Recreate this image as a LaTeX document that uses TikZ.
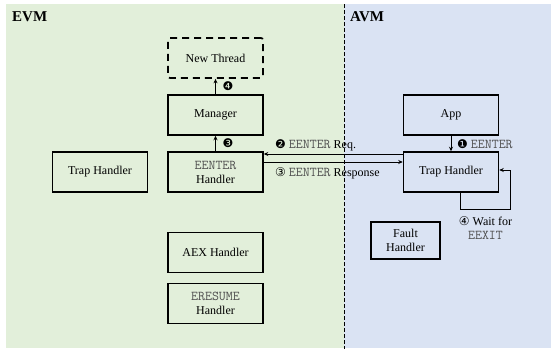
\documentclass[tikz,border=0pt]{standalone}
\usepackage{fontspec}
\setmainfont{Liberation Serif}
\newfontfamily\symfont{DejaVu Sans}
\usetikzlibrary{arrows.meta,calc}
\definecolor{evmgreen}{HTML}{E2EFDA}
\definecolor{avmblue}{HTML}{DAE3F3}
\definecolor{monogray}{HTML}{505050}
\newcommand{\mt}[1]{{\ttfamily\fontsize{13.5}{14}\selectfont\color{monogray}#1}}
\newcommand{\sy}[1]{{\symfont\fontsize{12}{12}\selectfont #1}}
\tikzset{
  box/.style={draw=black, line width=1.5pt, minimum width=95pt, minimum height=40pt, align=center, inner sep=0pt, font=\fontsize{12}{14}\selectfont},
  dbox/.style={box, dashed, dash pattern=on 7pt off 5pt, line width=1.7pt, rounded corners=2pt},
  arr/.style={draw=black, line width=1pt, -{Stealth[length=4.5pt,width=4pt]}},
  lbl/.style={inner sep=0pt, font=\fontsize{12}{14}\selectfont, text=black},
  title/.style={inner sep=0pt, font=\fontsize{15}{18}\selectfont\bfseries, anchor=west}
}
\begin{document}
\begin{tikzpicture}[x=1pt,y=-1pt]
\useasboundingbox (0,0) rectangle (551,349);
\fill[evmgreen] (6,4) rectangle (344,348);
\fill[avmblue] (344,4) rectangle (551,348);
\draw[black, line width=0.9pt, dash pattern=on 4pt off 2pt] (344,4) -- (344,349);

\node[title] (evm) at (12,17) {EVM};
\node[title] (avm) at (350,17) {AVM};

\node[dbox] (nt) at (215.5,58) {New Thread};
\node[box] (mgr) at (215.5,115) {Manager};
\node[box] (eh) at (215.5,172) {\mt{EENTER}\\Handler};
\node[box] (th1) at (100,172) {Trap Handler};
\node[box] (aex) at (215.5,252.5) {AEX Handler};
\node[box] (er) at (215.5,303.5) {\mt{ERESUME}\\Handler};
\node[box] (app) at (451,115) {App};
\node[box] (th2) at (451,172) {Trap Handler};
\node[box, minimum width=69pt, minimum height=37pt] (fh) at (405.5,240.5) {Fault\\Handler};

\draw[arr] (mgr.north) -- (nt.south);
\draw[arr] (eh.north) -- (mgr.south);
\draw[arr] (app.south) -- (th2.north);
\draw[arr] ([yshift=18pt]th2.west) -- ([yshift=18pt]eh.east);
\draw[arr] ([yshift=10pt]eh.east) -- ([yshift=10pt]th2.west);
\coordinate (l1) at ([xshift=9pt]th2.south |- 0,209);
\coordinate (l2) at (510,209);
\coordinate (l3) at (510,170);
\draw[arr] ([xshift=9pt]th2.south) -- (l1) -- (l2) -- (l3) -- (th2.east |- l3);

\node[lbl] (n4) at (228,86) {\sy{❹}};
\node[lbl] (n3) at (228,143) {\sy{❸}};
\node[lbl, anchor=west] (req) at (275,145) {\sy{❷} \mt{EENTER} Req.};
\node[lbl, anchor=west] (resp) at (275,173) {\sy{③} \mt{EENTER} Response};
\node[lbl, anchor=west] (ee) at (457,144) {\sy{❶} \mt{EENTER}};
\node[lbl, align=center] (wait) at (485.5,228.5) {\sy{④} Wait for\\\mt{EEXIT}};
\end{tikzpicture}
\end{document}
